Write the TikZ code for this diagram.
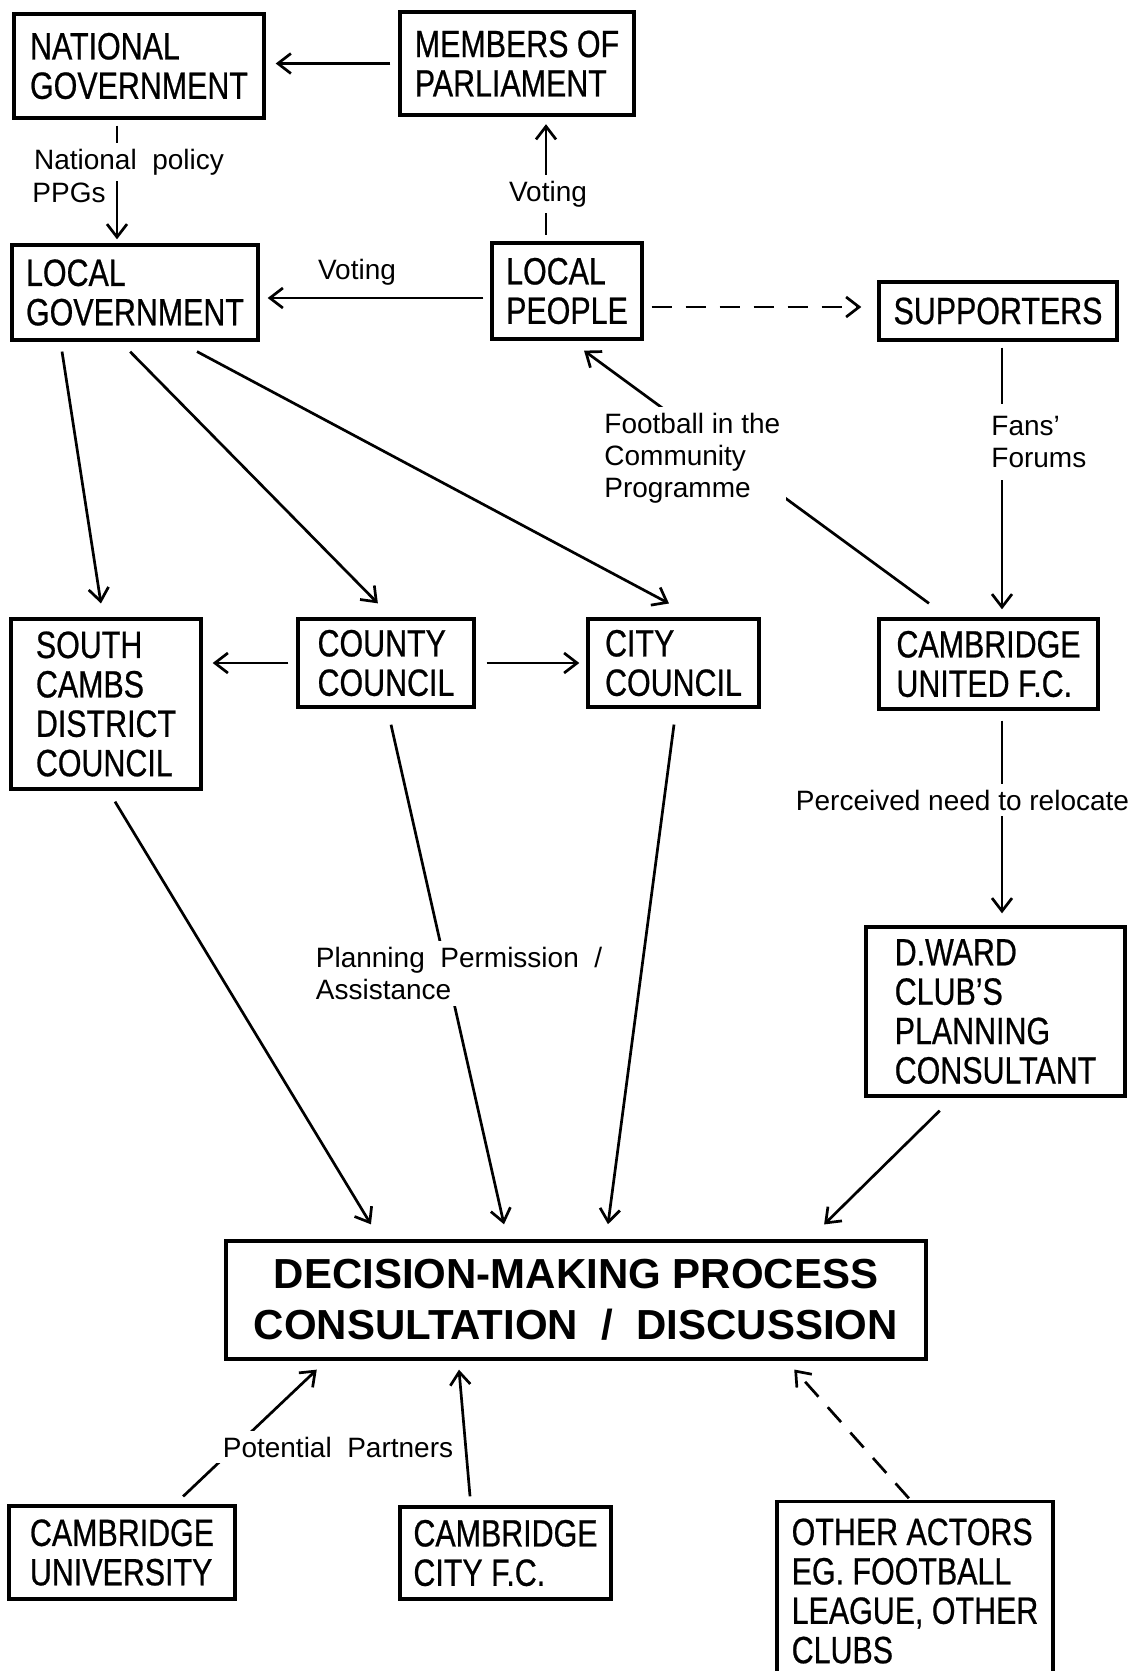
\documentclass[tikz,border=0pt]{standalone}
\usepackage{fontspec}
\setmainfont{Liberation Sans}
\newfontfamily\boxfont[FakeStretch=0.8,FakeBold=0.6]{Liberation Sans}
\usetikzlibrary{arrows.meta}

\begin{document}
\begin{tikzpicture}[
    x=0.5pt, y=-0.5pt,
    box/.style={draw, line width=1.7pt, align=left, inner sep=0pt, font=\boxfont\fontsize{19pt}{19.7pt}\selectfont},
    process/.style={draw, line width=1.7pt, align=center, inner sep=0pt, font=\bfseries\fontsize{21pt}{25.6pt}\selectfont},
    tag/.style={align=left, inner sep=3pt, font=\fontsize{14pt}{16pt}\selectfont},
    cover/.style={tag, fill=white},
    flow/.style={-{Straight Barb[length=6.5pt,width=10pt]}, line width=1.35pt, shorten <=4pt, shorten >=5pt},
    maybe/.style={flow, dash pattern=on 10pt off 7pt}
]
\useasboundingbox[fill=white] (0,0) rectangle (1133,1671);

% actors
\node[box, minimum width=125pt, minimum height=52pt] (natgov) at (139,66) {NATIONAL\\GOVERNMENT};
\node[box, minimum width=117pt, minimum height=51.5pt] (mp) at (517,63.5) {MEMBERS OF\\PARLIAMENT};
\node[box, minimum width=123pt, minimum height=47.5pt] (localgov) at (135,292.5) {LOCAL\\GOVERNMENT};
\node[box, minimum width=75pt, minimum height=48pt] (people) at (567,291) {LOCAL\\PEOPLE};
\node[box, minimum width=119pt, minimum height=29pt] (supporters) at (998,311) {SUPPORTERS};
\node[box, minimum width=95pt, minimum height=85pt] (south) at (106,704) {SOUTH\\CAMBS\\DISTRICT\\COUNCIL};
\node[box, minimum width=88pt, minimum height=44pt] (county) at (386,663) {COUNTY\\COUNCIL};
\node[box, minimum width=85.5pt, minimum height=44pt] (city) at (673.5,663) {CITY\\COUNCIL};
\node[box, minimum width=109.5pt, minimum height=45pt] (cufc) at (988.5,664) {CAMBRIDGE\\UNITED F.C.};
\node[box, minimum width=129.5pt, minimum height=84.5pt] (dward) at (995.5,1011.5) {D.WARD\\CLUB’S\\PLANNING\\CONSULTANT};
\node[process, minimum width=350pt, minimum height=59pt] (decision) at (576,1300) {DECISION-MAKING PROCESS\\CONSULTATION\ \ /\ \ DISCUSSION};
\node[box, minimum width=113pt, minimum height=46.5pt] (univ) at (122,1552.5) {CAMBRIDGE\\UNIVERSITY};
\node[box, minimum width=105.5pt, minimum height=46pt] (cityfc) at (505.5,1553) {CAMBRIDGE\\CITY F.C.};
\node[box, minimum width=138pt, minimum height=89.5pt] (other) at (915,1591) {OTHER ACTORS\\EG. FOOTBALL\\LEAGUE, OTHER\\CLUBS};

% top part
\draw[flow] (mp.west) -- (mp.west -| natgov.east);
\draw[flow, shorten <=3pt, shorten >=2pt] ([xshift=-11pt]natgov.south) -- ([xshift=-9pt]localgov.north);
\draw[flow, shorten <=3.25pt, shorten >=3.75pt] ([xshift=-10.5pt]people.north) -- ([xshift=14.5pt]mp.south);
\draw[flow, shorten <=3.5pt, shorten >=4pt] ([yshift=-3.5pt]people.west) -- ([yshift=-2.75pt]localgov.east);
\draw[maybe, shorten >=8pt] ([yshift=-8pt]people.east) -- ([yshift=2pt]supporters.west);
\draw[flow, shorten <=3pt, shorten >=4pt] ([xshift=2pt]supporters.south) -- ([xshift=6.75pt]cufc.north);
\draw[flow, shorten <=11.8pt, shorten >=8.4pt] ([xshift=-20.25pt]cufc.north) -- ([xshift=1.75pt]people.south);

% councils
\draw[flow, shorten <=5pt, shorten >=7pt] ([xshift=-37.25pt]localgov.south) -- ([xshift=-1.45pt]south.north);
\draw[flow, shorten <=7pt, shorten >=9.8pt] ([xshift=-7.35pt]localgov.south) -- ([xshift=2.8pt]county.north);
\draw[flow, shorten <=10.5pt, shorten >=14.7pt] ([xshift=21.75pt]localgov.south) -- ([xshift=10.7pt]city.north);
\draw[flow] (county.west) -- (county.west -| south.east);
\draw[flow, shorten <=5.5pt, shorten >=3.5pt] (county.east) -- (county.east -| city.west);
\draw[flow, shorten <=5pt, shorten >=6pt] ([xshift=6.75pt]cufc.south) -- ([xshift=3.25pt]dward.north);

% into the decision box
\draw[flow, shorten <=6.4pt, shorten >=8.75pt] ([xshift=1.2pt]south.south) -- ([xshift=-98pt]decision.north);
\draw[flow, shorten <=8.2pt, shorten >=7.7pt] ([xshift=0.7pt]county.south) -- ([xshift=-34.3pt]decision.north);
\draw[flow, shorten <=8pt, shorten >=7.6pt] ([xshift=1.3pt]city.south) -- ([xshift=15pt]decision.north);
\draw[flow, shorten <=9.2pt, shorten >=10.6pt] ([xshift=-21.3pt]dward.south) -- ([xshift=116.5pt]decision.north);
\draw[flow, shorten <=5.7pt, shorten >=6.5pt] ([xshift=26.4pt]univ.north) -- ([xshift=-124.9pt]decision.south);
\draw[flow, shorten <=4.5pt, shorten >=4.5pt] ([xshift=-17.35pt]cityfc.north) -- ([xshift=-58.9pt]decision.south);
\draw[maybe, shorten <=1pt, shorten >=5.9pt] ([xshift=-2.4pt]other.north) -- ([xshift=105.2pt]decision.south);

% labels on the connectors
\node[cover] (natpol) at (129,162) {National\ \ policy};
\node[tag, anchor=west] (ppgs) at (26,193) {PPGs};
\node[cover] (mpvote) at (548,194) {Voting};
\node[tag] (lgvote) at (357,272) {Voting};
\node[cover, anchor=west] (fitc) at (598,458) {Football in the\\Community\\Programme};
\node[cover, anchor=west, inner ysep=6pt] (fans) at (985,442) {Fans'\\Forums};
\node[cover] (relocate) at (962.5,800) {Perceived need to relocate};
\node[cover, anchor=west] (planning) at (309.5,973.5) {Planning\ \ Permission\ \ /\\Assistance};
\node[cover, inner xsep=5pt] (partners) at (338,1447) {Potential\ \ Partners};
\end{tikzpicture}
\end{document}
